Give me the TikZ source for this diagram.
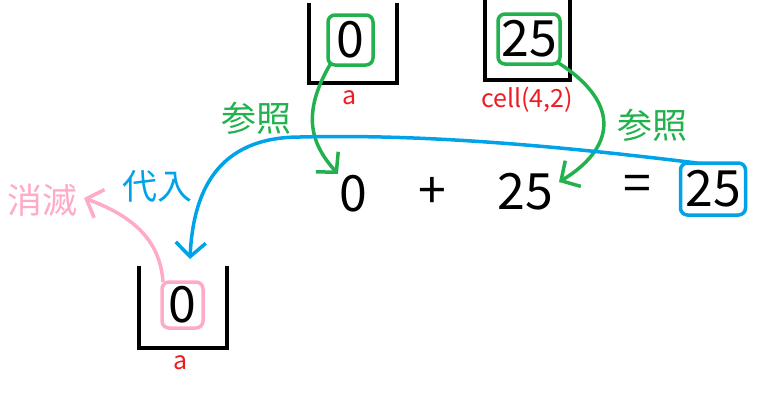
\documentclass[tikz,border=0pt]{standalone}
\usepackage{fontspec}
\setmainfont{Noto Sans CJK JP}
\usetikzlibrary{arrows.meta}
\definecolor{pgreen}{RGB}{34,177,76}
\definecolor{pblue}{RGB}{0,162,232}
\definecolor{ppink}{RGB}{255,170,200}
\definecolor{pred}{RGB}{237,28,36}
\tikzset{
  big/.style={font=\fontsize{50}{50}\selectfont, inner sep=0pt},
  lab/.style={font=\fontsize{35}{35}\selectfont, inner sep=0pt},
  small/.style={font=\fontsize{25}{25}\selectfont, text=pred, inner sep=0pt},
  cellbox/.style={draw, line width=3.5pt, rounded corners=7pt, minimum height=50pt, inner sep=0pt},
  wall/.style={line width=4pt, line cap=rect},
  arr/.style={line width=3.5pt, -{Straight Barb[length=14pt,width=30pt]}},
}
\begin{document}
\begin{tikzpicture}[x=1pt,y=-1pt]
\useasboundingbox (0,0) rectangle (763,408);
% containers
\draw[wall] (309,5) -- (309,83) -- (397,83) -- (397,5);
\draw[wall] (485,0) -- (485,80) -- (570,80) -- (570,0);
\draw[wall] (139,268) -- (139,348) -- (227,348) -- (227,268);
% cell contents
\node[big, cellbox, pgreen, text=black, minimum width=45pt] (c0) at (350.5,40) {0};
\node[big, cellbox, pgreen, text=black, minimum width=62pt] (c25) at (529,39) {25};
\node[big, cellbox, ppink, text=black, minimum width=41pt, minimum height=46pt] (ca) at (182.5,305) {0};
\node[small] (la) at (350,98) {a};
\node[small] (lcell) at (527,100) {cell(4,2)};
\node[small] (lb) at (181,363) {a};
% equation
\node[big] (e0) at (353,194) {0};
\node[big] (eplus) at (432,193) {+};
\node[big] (e25) at (525,192) {25};
\node[big] (eeq) at (637,188) {=};
\node[big, cellbox, pblue, text=black, minimum width=65pt, minimum height=52pt] (eres) at (713,189) {25};
% labels
\node[lab, text=pgreen] (r1) at (256,118) {参照};
\node[lab, text=pgreen] (r2) at (652,125) {参照};
\node[lab, text=pblue] (sub) at (157,186) {代入};
\node[lab, text=ppink] (del) at (42,200) {消滅};
% arrows
\coordinate (g1s) at (331,63);
\coordinate (g1e) at (338,174);
\draw[arr, pgreen] (g1s) .. controls (300,115) and (312,145) .. (g1e);
\coordinate (g2s) at (557,62);
\coordinate (g2e) at (559,182);
\draw[arr, pgreen] (g2s) .. controls (625,105) and (612,150) .. (g2e);
\coordinate (bs) at (697,163);
\coordinate (bm) at (300,137);
\coordinate (be) at (190,259);
\draw[arr, pblue] (bs) .. controls (550,145) and (420,134) .. (bm) .. controls (215,137) and (193,195) .. (be);
\coordinate (ps) at (163,282);
\coordinate (pe) at (84,198);
\draw[arr, ppink] (ps) .. controls (160,238) and (130,215) .. (pe);
\end{tikzpicture}
\end{document}
